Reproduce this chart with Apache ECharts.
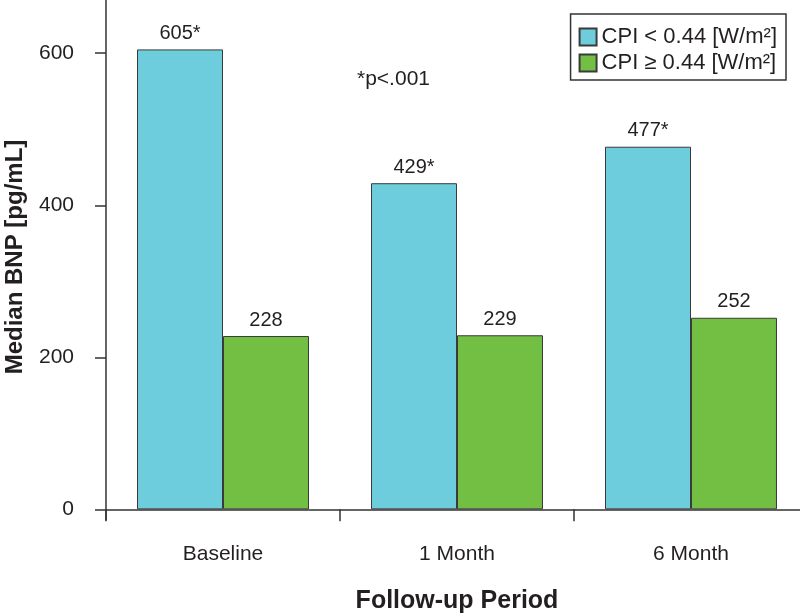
<!DOCTYPE html>
<html><head><meta charset="utf-8">
<script src="https://cdn.jsdelivr.net/npm/echarts@6/dist/echarts.min.js"></script>
<style>html,body{margin:0;padding:0;background:#fff}#c{width:800px;height:616px}</style>
</head><body><div id="c"></div>
<script>
const categories = ['Baseline', '1 Month', '6 Month'];
const seriesNames = ['CPI < 0.44 [W/m²]', 'CPI ≥ 0.44 [W/m²]'];
const lowCPI = [605, 429, 477];
const highCPI = [228, 229, 252];
const lowLabels = ['605*', '429*', '477*'];
const highLabels = ['228', '229', '252'];
const yTicks = [0, 200, 400, 600];
const font = 'Liberation Sans, Arial, sans-serif';
const ink = '#231f20';

const chart = echarts.init(document.getElementById('c'));
function mkData(vals, labels) {
  return vals.map((v, i) => ({ value: v, label: { formatter: labels[i] } }));
}
chart.setOption({
  animation: false,
  textStyle: { fontFamily: font },
  grid: { left: 106, width: 702, top: 0, bottom: 96, containLabel: false, outerBoundsMode: 'none' },
  legend: {
    orient: 'vertical', right: 14, top: 14,
    borderColor: '#333', borderWidth: 1.5, padding: [12, 9, 6, 8],
    itemWidth: 17, itemHeight: 17, itemGap: 4,
    textStyle: { fontSize: 22, color: ink, fontFamily: font },
    data: seriesNames.map(n => ({ name: n, icon: 'rect' }))
  },
  xAxis: {
    type: 'category', data: categories,
    axisLine: { onZero: true, lineStyle: { color: '#333', width: 1.5 } },
    axisTick: { show: true, length: 12, lineStyle: { color: '#333', width: 1.5 } },
    axisLabel: { fontSize: 21, color: ink, margin: 24 },
    name: 'Follow-up Period', nameLocation: 'middle', nameGap: 69,
    nameTextStyle: { fontSize: 25, fontWeight: 'bold', color: ink }
  },
  yAxis: {
    type: 'value', min: -14, max: 670,
    axisLine: { show: true, lineStyle: { color: '#333', width: 1.5 } },
    axisTick: { show: true, length: 11, customValues: yTicks, lineStyle: { color: '#333', width: 1.5 } },
    axisLabel: { fontSize: 21, color: ink, margin: 32, customValues: yTicks },
    splitLine: { show: false }
  },
  graphic: [
    { type: 'text', left: 357, top: 69, style: { text: '*p<.001', fontSize: 21, fill: ink, fontFamily: font } },
    { type: 'text', x: 15, y: 257, rotation: Math.PI / 2,
      style: { text: 'Median BNP [pg/mL]', fontSize: 24, fontWeight: 'bold', fill: ink, fontFamily: font, align: 'center', verticalAlign: 'middle' } }
  ],
  series: [
    { name: seriesNames[0], type: 'bar', data: mkData(lowCPI, lowLabels), barGap: '0%', barCategoryGap: '26.5%',
      itemStyle: { color: '#6dcddc', borderColor: '#3a3a3a', borderWidth: 1 },
      label: { show: true, position: 'top', distance: 6, fontSize: 20, color: ink } },
    { name: seriesNames[1], type: 'bar', data: mkData(highCPI, highLabels), barGap: '0%', barCategoryGap: '26.5%',
      itemStyle: { color: '#72bf44', borderColor: '#3a3a3a', borderWidth: 1 },
      label: { show: true, position: 'top', distance: 6, fontSize: 20, color: ink } }
  ]
});
</script></body></html>
